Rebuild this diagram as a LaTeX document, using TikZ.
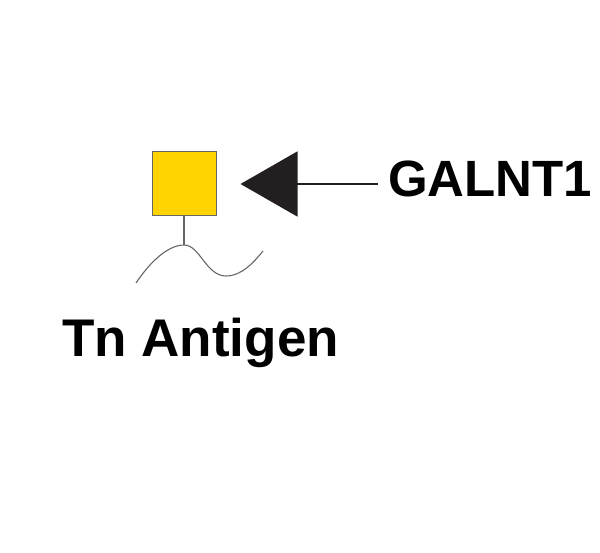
\documentclass[tikz,border=0pt]{standalone}
\usepackage{fontspec}
\setmainfont{Liberation Sans}
\usetikzlibrary{arrows.meta}
\definecolor{glcyellow}{HTML}{FFD400}
\definecolor{edgegray}{HTML}{666666}
\definecolor{tipblack}{HTML}{231F20}
\begin{document}
\begin{tikzpicture}[x=1pt,y=-1pt,
  label/.style={font=\fontsize{52}{60}\selectfont\bfseries, inner sep=0pt, anchor=base west},
  sugar/.style={draw=edgegray, line width=1pt, fill=glcyellow, minimum size=64pt, inner sep=0pt},
  enzymearrow/.style={draw=tipblack, line width=1.5pt, -{Triangle[length=57pt,width=65pt]}, shorten >=24pt, shorten <=10pt},
  chain/.style={draw=edgegray, line width=1.1pt}]
\useasboundingbox (0,0) rectangle (600,553);
\node[sugar] (gal) at (184,184) {};
\node[label, font=\fontsize{51}{60}\selectfont\bfseries] (enz) at (388,197) {GALNT1};
\node[label, font=\fontsize{53}{60}\selectfont\bfseries] (tn) at (62,357) {Tn Antigen};
\coordinate (peak) at (184,245);
\coordinate (cstart) at (136,283);
\coordinate (trough) at (226,276);
\coordinate (cend) at (263,251);
\draw[enzymearrow] (enz.west |- 0,184) -- (gal.east |- 0,184);
\draw[chain] (gal.south) -- (peak);
\draw[chain] (cstart) .. controls (150,262) and (168,245) .. (peak)
  .. controls (200,245) and (206,276) .. (trough)
  .. controls (242,276) and (254,262) .. (cend);
\end{tikzpicture}
\end{document}
